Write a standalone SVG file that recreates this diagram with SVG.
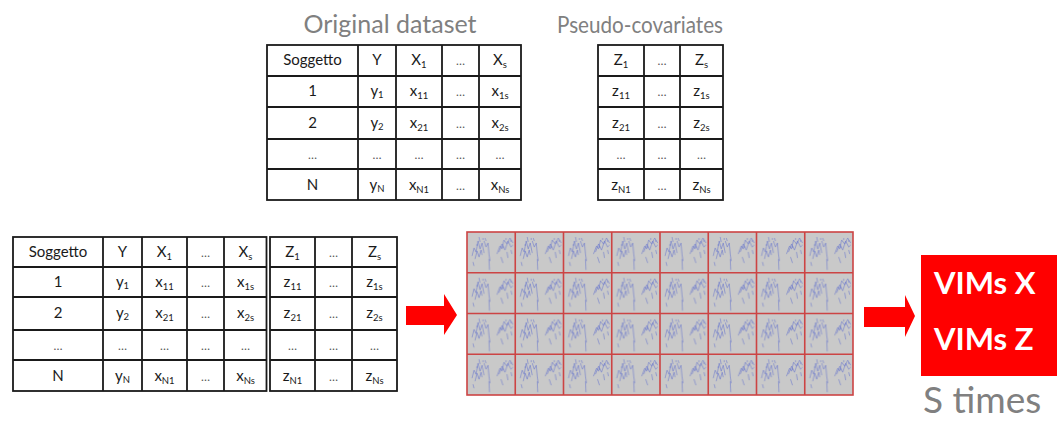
<svg xmlns="http://www.w3.org/2000/svg" width="1057" height="421" viewBox="0 0 1057 421">
  <style>
    .title { font-family: Lato, "Open Sans", "Liberation Sans", sans-serif; font-size: 25px; fill: #808080; text-anchor: middle; }
    .t { font-family: Lato, "Liberation Sans", sans-serif; font-size: 15px; fill: #1a1a1a; text-anchor: middle; }
    .d { font-family: Lato, "Liberation Sans", sans-serif; font-size: 12px; fill: #555; text-anchor: middle; }
    .s { font-size: 9.5px; }
    .grid { fill: none; stroke: #1a1a1a; stroke-width: 1.8; }
    .cell { fill: url(#treePlot); stroke: #cc4444; stroke-width: 1.6; }
    .arrow { fill: #ff0000; }
    .vim { font-family: Lato, "Open Sans", "Liberation Sans", sans-serif; font-size: 31px; font-weight: bold; fill: #ffffff; }
    .times { font-family: Lato, "Open Sans", "Liberation Sans", sans-serif; font-size: 37px; fill: #808080; }
  </style>
  <defs>
    <!-- one small tree plot, tiled across the forest grid -->
    <pattern id="treePlot" x="467" y="232" width="48.25" height="40.75" patternUnits="userSpaceOnUse">
      <rect width="48.25" height="40.75" fill="#c9c9c9"/>
      <g fill="none" stroke="#5d6ccc" stroke-width="0.7" stroke-opacity="0.75">
        <path d="M5,24 L7,16 L9,20 L11,9 L13,17 L15,11 L17,21"/>
        <path d="M8,27 L10,19 L12,25 L14,18 L15,23"/>
        <path d="M17,9 L19,15 L21,11 L22,22 L23,29"/>
        <path d="M22,27 L22.5,38"/>
        <path d="M12,5 L13,10 M18,6 L19,9 M6,30 L7,34"/>
        <path d="M30,22 L33,14 L35,17 L37,8 L40,12 L43,6 L46,11"/>
        <path d="M32,20 L35,12 L38,18 L41,9 L44,15 L46,13"/>
        <path d="M34,25 L36,31 M40,20 L41,26 M44,18 L45,22"/>
      </g>
      <g fill="#5d6ccc" fill-opacity="0.6">
        <circle cx="10" cy="13" r="0.8"/>
        <circle cx="16" cy="7" r="0.8"/>
        <circle cx="39" cy="7" r="0.8"/>
        <circle cx="44" cy="9" r="0.8"/>
        <circle cx="36" cy="15" r="0.8"/>
      </g>
    </pattern>
  </defs>

  <!-- titles -->
  <text class="title" x="390" y="33">Original dataset</text>
  <text class="title" x="640" y="33" style="font-size:24px" textLength="166" lengthAdjust="spacingAndGlyphs">Pseudo-covariates</text>

  <!-- original dataset table -->
  <g id="original-dataset">
    <rect class="grid" x="267" y="45" width="254" height="155"/>
    <path class="grid" d="M358,45 V200 M396,45 V200 M442,45 V200 M479,45 V200 M267,76 H521 M267,107 H521 M267,139 H521 M267,169 H521"/>
    <text class="t" x="312.5" y="65">Soggetto</text>
    <text class="t" x="377" y="65">Y</text>
    <text class="t" x="419" y="65">X<tspan class="s" dy="3">1</tspan></text>
    <text class="d" x="460.5" y="65">…</text>
    <text class="t" x="500" y="65">X<tspan class="s" dy="3">s</tspan></text>

    <text class="t" x="312.5" y="96">1</text>
    <text class="t" x="377" y="96">y<tspan class="s" dy="2">1</tspan></text>
    <text class="t" x="419" y="96">x<tspan class="s" dy="3">11</tspan></text>
    <text class="d" x="460.5" y="96">…</text>
    <text class="t" x="500" y="96">x<tspan class="s" dy="3">1s</tspan></text>

    <text class="t" x="312.5" y="128">2</text>
    <text class="t" x="377" y="128">y<tspan class="s" dy="2">2</tspan></text>
    <text class="t" x="419" y="128">x<tspan class="s" dy="3">21</tspan></text>
    <text class="d" x="460.5" y="128">…</text>
    <text class="t" x="500" y="128">x<tspan class="s" dy="3">2s</tspan></text>

    <text class="d" x="312.5" y="159">…</text>
    <text class="d" x="377" y="159">…</text>
    <text class="d" x="419" y="159">…</text>
    <text class="d" x="460.5" y="159">…</text>
    <text class="d" x="500" y="159">…</text>

    <text class="t" x="312.5" y="190">N</text>
    <text class="t" x="377" y="190">y<tspan class="s" dy="2">N</tspan></text>
    <text class="t" x="419" y="190">x<tspan class="s" dy="3">N1</tspan></text>
    <text class="d" x="460.5" y="190">…</text>
    <text class="t" x="500" y="190">x<tspan class="s" dy="3">Ns</tspan></text>
  </g>

  <!-- pseudo-covariates table -->
  <g id="pseudo-covariates">
    <rect class="grid" x="598" y="45" width="125" height="155"/>
    <path class="grid" d="M644,45 V200 M680,45 V200 M598,76 H723 M598,107 H723 M598,139 H723 M598,169 H723"/>
    <text class="t" x="621" y="65">Z<tspan class="s" dy="3">1</tspan></text>
    <text class="d" x="662" y="65">…</text>
    <text class="t" x="701.5" y="65">Z<tspan class="s" dy="3">s</tspan></text>

    <text class="t" x="621" y="96">z<tspan class="s" dy="3">11</tspan></text>
    <text class="d" x="662" y="96">…</text>
    <text class="t" x="701.5" y="96">z<tspan class="s" dy="3">1s</tspan></text>

    <text class="t" x="621" y="128">z<tspan class="s" dy="3">21</tspan></text>
    <text class="d" x="662" y="128">…</text>
    <text class="t" x="701.5" y="128">z<tspan class="s" dy="3">2s</tspan></text>

    <text class="d" x="621" y="159">…</text>
    <text class="d" x="662" y="159">…</text>
    <text class="d" x="701.5" y="159">…</text>

    <text class="t" x="621" y="190">z<tspan class="s" dy="3">N1</tspan></text>
    <text class="d" x="662" y="190">…</text>
    <text class="t" x="701.5" y="190">z<tspan class="s" dy="3">Ns</tspan></text>
  </g>

  <!-- augmented dataset: original columns plus pseudo-covariates -->
  <g id="augmented-dataset">
    <rect class="grid" x="13" y="237" width="253.5" height="154"/>
    <rect class="grid" x="270" y="237" width="127" height="154"/>
    <path class="grid" d="M103,237 V391 M142,237 V391 M187,237 V391 M224,237 V391 M315,237 V391 M352,237 V391 M13,267 H266.5 M13,297 H266.5 M13,330 H266.5 M13,360 H266.5 M270,267 H397 M270,297 H397 M270,330 H397 M270,360 H397"/>
    <text class="t" x="58" y="257">Soggetto</text>
    <text class="t" x="122.5" y="257">Y</text>
    <text class="t" x="164.5" y="257">X<tspan class="s" dy="3">1</tspan></text>
    <text class="d" x="205.5" y="257">…</text>
    <text class="t" x="245.5" y="257">X<tspan class="s" dy="3">s</tspan></text>
    <text class="t" x="292.5" y="257">Z<tspan class="s" dy="3">1</tspan></text>
    <text class="d" x="333.5" y="257">…</text>
    <text class="t" x="374.5" y="257">Z<tspan class="s" dy="3">s</tspan></text>

    <text class="t" x="58" y="287">1</text>
    <text class="t" x="122.5" y="287">y<tspan class="s" dy="2">1</tspan></text>
    <text class="t" x="164.5" y="287">x<tspan class="s" dy="3">11</tspan></text>
    <text class="d" x="205.5" y="287">…</text>
    <text class="t" x="245.5" y="287">x<tspan class="s" dy="3">1s</tspan></text>
    <text class="t" x="292.5" y="287">z<tspan class="s" dy="3">11</tspan></text>
    <text class="d" x="333.5" y="287">…</text>
    <text class="t" x="374.5" y="287">z<tspan class="s" dy="3">1s</tspan></text>

    <text class="t" x="58" y="318">2</text>
    <text class="t" x="122.5" y="318">y<tspan class="s" dy="2">2</tspan></text>
    <text class="t" x="164.5" y="318">x<tspan class="s" dy="3">21</tspan></text>
    <text class="d" x="205.5" y="318">…</text>
    <text class="t" x="245.5" y="318">x<tspan class="s" dy="3">2s</tspan></text>
    <text class="t" x="292.5" y="318">z<tspan class="s" dy="3">21</tspan></text>
    <text class="d" x="333.5" y="318">…</text>
    <text class="t" x="374.5" y="318">z<tspan class="s" dy="3">2s</tspan></text>

    <text class="d" x="58" y="350">…</text>
    <text class="d" x="122.5" y="350">…</text>
    <text class="d" x="164.5" y="350">…</text>
    <text class="d" x="205.5" y="350">…</text>
    <text class="d" x="245.5" y="350">…</text>
    <text class="d" x="292.5" y="350">…</text>
    <text class="d" x="333.5" y="350">…</text>
    <text class="d" x="374.5" y="350">…</text>

    <text class="t" x="58" y="381">N</text>
    <text class="t" x="122.5" y="381">y<tspan class="s" dy="2">N</tspan></text>
    <text class="t" x="164.5" y="381">x<tspan class="s" dy="3">N1</tspan></text>
    <text class="d" x="205.5" y="381">…</text>
    <text class="t" x="245.5" y="381">x<tspan class="s" dy="3">Ns</tspan></text>
    <text class="t" x="292.5" y="381">z<tspan class="s" dy="3">N1</tspan></text>
    <text class="d" x="333.5" y="381">…</text>
    <text class="t" x="374.5" y="381">z<tspan class="s" dy="3">Ns</tspan></text>
  </g>

  <!-- forest of trees: 8 x 4 grid of tree plots -->
  <g id="forest">
    <rect class="cell" x="467" y="232" width="386" height="163"/>
    <path fill="none" stroke="#cc4444" stroke-width="1.6" d="M515.25,232 V395 M563.5,232 V395 M611.75,232 V395 M660,232 V395 M708.25,232 V395 M756.5,232 V395 M804.75,232 V395 M467,272.75 H853 M467,313.5 H853 M467,354.25 H853"/>
  </g>

  <!-- result box -->
  <g id="vims">
    <rect x="921" y="255" width="136" height="121" fill="#ff0000"/>
    <text class="vim" x="934" y="294">VIMs X</text>
    <text class="vim" x="934" y="350">VIMs Z</text>
  </g>
  <text class="times" x="923" y="413">S times</text>

  <!-- block arrows -->
  <g id="connectors">
    <polygon class="arrow" points="406,306 444,306 444,294 457,315 444,335 444,325 406,325"/>
    <polygon class="arrow" points="864,307 905,307 905,295 915,316 905,337 905,327 864,327"/>
  </g>
</svg>
